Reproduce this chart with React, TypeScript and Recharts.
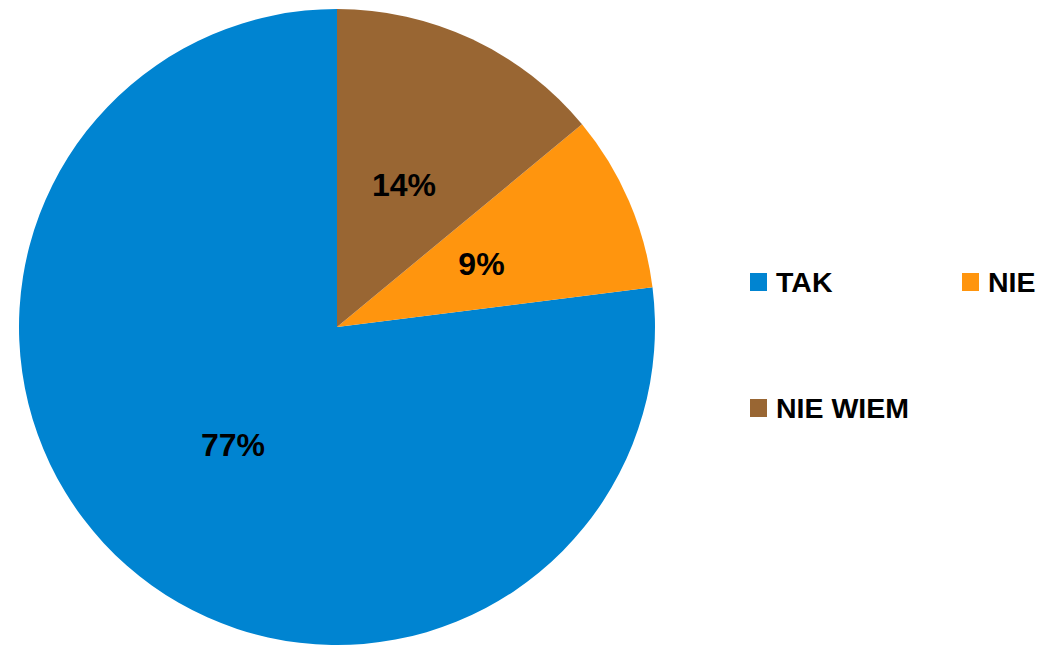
import React from 'react'
import { PieChart, Pie, Cell, Legend } from 'recharts'

const categories = ['TAK', 'NIE', 'NIE WIEM']
const shares = [77, 9, 14]
const colors = ['#0084d1', '#ff950e', '#996633']

const data = categories.map((name, i) => ({ name, value: shares[i] }))

const RADIAN = Math.PI / 180

const renderLabel = (props: any) => {
  const { cx, cy, midAngle, outerRadius, value } = props
  const r = outerRadius * 0.495
  const x = cx + r * Math.cos(-midAngle * RADIAN)
  const y = cy + r * Math.sin(-midAngle * RADIAN)
  return (
    <text
      x={x}
      y={y}
      fill="#000"
      textAnchor="middle"
      dominantBaseline="central"
      style={{ fontFamily: '"Liberation Sans", Arial, sans-serif', fontWeight: 'bold', fontSize: 32 }}
    >
      {`${value}%`}
    </text>
  )
}

const legendSpots = [
  { left: 0, top: 0 },
  { left: 212, top: 0 },
  { left: 0, top: 126 },
]

const renderLegend = () => (
  <div style={{ position: 'relative', width: 290, height: 160 }}>
    {categories.map((name, i) => (
      <div
        key={name}
        style={{
          position: 'absolute',
          left: legendSpots[i].left,
          top: legendSpots[i].top,
          display: 'flex',
          alignItems: 'center',
          height: 24,
        }}
      >
        <span style={{ width: 17, height: 18, background: colors[i], display: 'inline-block' }} />
        <span
          style={{
            marginLeft: 9,
            fontFamily: '"Liberation Sans", Arial, sans-serif',
            fontWeight: 'bold',
            fontSize: 28.5,
            lineHeight: 1,
            color: '#000',
            whiteSpace: 'nowrap',
          }}
        >
          {name}
        </span>
      </div>
    ))}
  </div>
)

const App = () => {
  return (
    <div style={{ position: 'absolute', left: 0, top: 0, width: 1043, height: 645, background: '#fff' }}>
      <PieChart width={1043} height={645} margin={{ top: 0, right: 0, bottom: 0, left: 0 }}>
        <Pie
          data={data}
          dataKey="value"
          nameKey="name"
          cx={337}
          cy={327}
          outerRadius={318}
          startAngle={90}
          endAngle={450}
          stroke="none"
          labelLine={false}
          label={renderLabel}
          isAnimationActive={false}
        >
          {data.map((d, i) => (
            <Cell key={d.name} fill={colors[i]} />
          ))}
        </Pie>
        <Legend
          content={renderLegend}
          wrapperStyle={{ position: 'absolute', left: 750, top: 270, width: 290, height: 160 }}
        />
      </PieChart>
    </div>
  )
}

export default App
